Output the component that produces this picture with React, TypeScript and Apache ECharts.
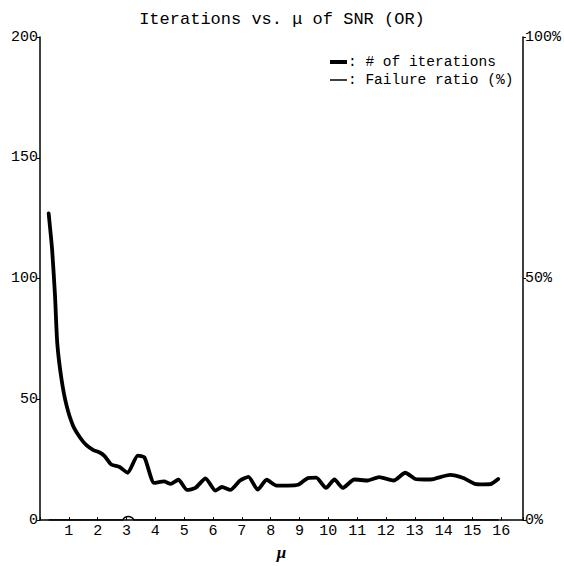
import React, { useEffect, useRef } from "react";
import * as echarts from "echarts";

const titleText = "Iterations vs. \u03bc of SNR (OR)";
const xName = "\u03bc";
const legendNames = [": # of iterations", ": Failure ratio (%)"];

// [mu, # of iterations]
const iterations: [number, number][] = [
  [0.3, 127], [0.42, 112], [0.52, 93], [0.6, 73], [0.75, 58], [0.92, 47.5],
  [1.15, 39], [1.4, 34], [1.61, 31], [1.85, 29], [2.07, 28], [2.24, 26.5],
  [2.47, 23], [2.76, 22], [3.04, 19.6], [3.39, 26.7], [3.62, 26], [3.96, 15.4],
  [4.3, 16], [4.53, 15], [4.8, 16.7], [5.1, 12.5], [5.39, 13.3], [5.74, 17.3],
  [6.08, 12.2], [6.31, 13.7], [6.6, 12.5], [6.94, 16.4], [7.23, 17.9], [7.55, 12.6],
  [7.86, 16.7], [8.2, 14.3], [8.6, 14.3], [8.95, 14.6], [9.29, 17.4], [9.58, 17.6],
  [9.92, 13.3], [10.21, 16.8], [10.5, 13.3], [10.9, 16.8], [11.36, 16.4], [11.76, 17.8],
  [12.27, 16.4], [12.67, 19.6], [13.02, 17], [13.36, 16.8], [13.65, 17], [14.22, 18.7],
  [14.68, 17.4], [15.08, 15], [15.4, 14.8], [15.65, 15], [15.89, 17],
];

// [mu, failure ratio %]
const failure: [number, number][] = [
  [0.3, 0], [2.85, 0], [2.93, 0.5], [3.06, 0.75], [3.19, 0.5], [3.28, 0], [15.9, 0],
];

const leftTicks = { min: 0, max: 200, interval: 50 };
const rightTicks = { min: 0, max: 100, interval: 50 };
const xRange = { min: 0, max: 16.75, interval: 1 };

const MONO = "Liberation Mono";

export default function App() {
  const ref = useRef<HTMLDivElement>(null);
  useEffect(() => {
    if (!ref.current) return;
    const chart = echarts.init(ref.current, undefined, { renderer: "svg" });
    const axisLine = { show: true, lineStyle: { color: "#000", width: 1.5 } };
    chart.setOption({
      animation: false,
      backgroundColor: "#fff",
      title: {
        text: titleText,
        left: "center",
        top: 6,
        textStyle: { fontFamily: MONO, fontSize: 17, fontWeight: "normal", color: "#000" },
      },
      grid: { left: 40, right: 38, top: 37, bottom: 44 },
      xAxis: {
        type: "value",
        min: xRange.min,
        max: xRange.max,
        interval: xRange.interval,
        name: xName,
        nameLocation: "middle",
        nameGap: 17,
        nameTextStyle: {
          fontFamily: "Liberation Serif",
          fontStyle: "italic",
          fontWeight: "bold",
          fontSize: 17,
          color: "#000",
        },
        axisLine,
        axisTick: { show: true, inside: true, length: 3, lineStyle: { color: "#000" } },
        axisLabel: {
          fontFamily: MONO,
          fontSize: 15,
          color: "#000",
          margin: 4,
          formatter: (v: number) => (Number.isInteger(v) && v >= 1 && v <= 16 ? String(v) : ""),
        },
        splitLine: { show: false },
      },
      yAxis: [
        {
          type: "value",
          position: "left",
          min: leftTicks.min,
          max: leftTicks.max,
          interval: leftTicks.interval,
          axisLine,
          axisTick: { show: true, length: 3, lineStyle: { color: "#000" } },
          axisLabel: { fontFamily: MONO, fontSize: 15, color: "#000", margin: 2 },
          splitLine: { show: false },
        },
        {
          type: "value",
          position: "right",
          min: rightTicks.min,
          max: rightTicks.max,
          interval: rightTicks.interval,
          axisLine,
          axisTick: { show: true, length: 3, lineStyle: { color: "#000" } },
          axisLabel: {
            fontFamily: MONO,
            fontSize: 15,
            color: "#000",
            margin: 2,
            formatter: (v: number) => v + "%",
          },
          splitLine: { show: false },
        },
      ],
      graphic: [
        { type: "line", shape: { x1: 330, y1: 62, x2: 347, y2: 62 }, style: { stroke: "#000", lineWidth: 4 } },
        { type: "line", shape: { x1: 330, y1: 80, x2: 347, y2: 80 }, style: { stroke: "#000", lineWidth: 1.5 } },
        {
          type: "text",
          x: 348,
          y: 62,
          style: { text: legendNames[0], fontFamily: MONO, fontSize: 14.5, fill: "#000", verticalAlign: "middle" },
        },
        {
          type: "text",
          x: 348,
          y: 80,
          style: { text: legendNames[1], fontFamily: MONO, fontSize: 14.5, fill: "#000", verticalAlign: "middle" },
        },
      ],
      series: [
        {
          name: "# of iterations",
          type: "line",
          yAxisIndex: 0,
          data: iterations,
          symbol: "none",
          smooth: 0.2,
          lineStyle: { color: "#000", width: 3.8, join: "round", cap: "round" },
        },
        {
          name: "Failure ratio (%)",
          type: "line",
          yAxisIndex: 1,
          data: failure,
          symbol: "none",
          smooth: 0.3,
          lineStyle: { color: "#000", width: 1.5 },
        },
      ],
    });
    return () => chart.dispose();
  }, []);
  return (
    <div
      ref={ref}
      style={{ position: "fixed", left: 0, top: 0, width: 564, height: 566, background: "#fff" }}
    />
  );
}
